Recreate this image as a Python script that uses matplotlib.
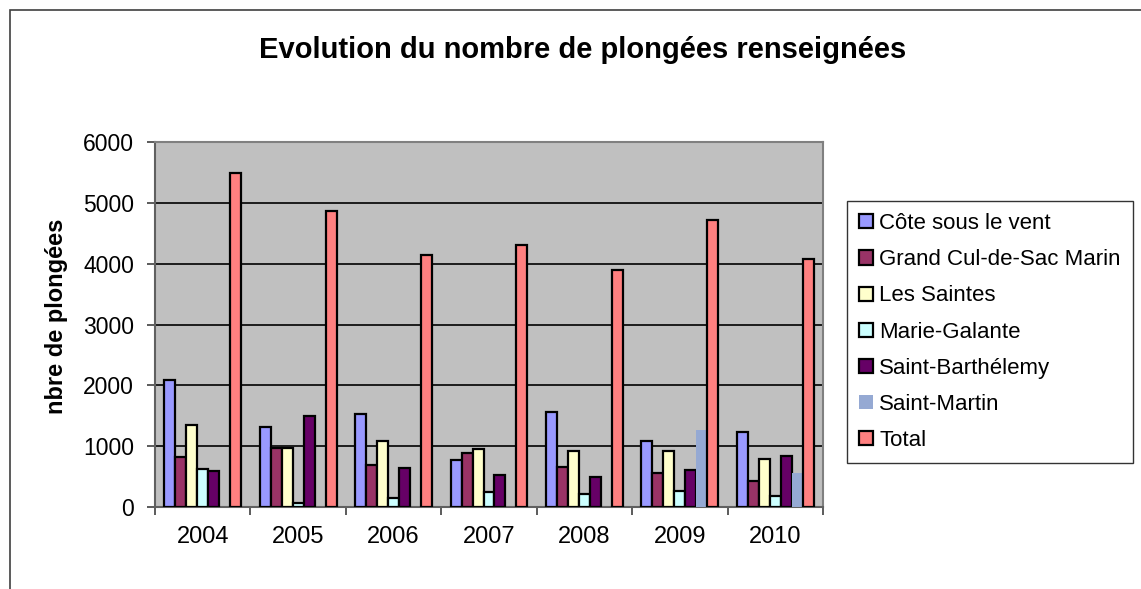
import numpy as np
import matplotlib.pyplot as plt
import matplotlib.patches as mpatches

plt.rcParams['font.family'] = ['Liberation Sans', 'DejaVu Sans']

# --- data ---
years = ['2004', '2005', '2006', '2007', '2008', '2009', '2010']
series = ['Côte sous le vent', 'Grand Cul-de-Sac Marin', 'Les Saintes',
          'Marie-Galante', 'Saint-Barthélemy', 'Saint-Martin', 'Total']
cote = [2080, 1320, 1530, 775, 1560, 1090, 1230]
grand_cul = [820, 965, 695, 880, 665, 565, 435]
saintes = [1340, 965, 1085, 955, 920, 920, 790]
marie_galante = [625, 60, 145, 240, 215, 265, 180]
saint_barth = [585, 1490, 640, 530, 485, 610, 845]
saint_martin = [0, 0, 0, 0, 0, 1270, 565]
total = [5485, 4860, 4135, 4300, 3890, 4725, 4070]
values = [cote, grand_cul, saintes, marie_galante, saint_barth, saint_martin, total]

colors = ['#9999FF', '#993366', '#FFFFCC', '#CCFFFF', '#660066', '#95A9D3', '#FF8080']
edges = ['black'] * 5 + ['none'] + ['black']

fig = plt.figure(figsize=(11.41, 5.89), dpi=100)
ax = fig.add_axes([155 / 1141, 1 - 507 / 589, 668 / 1141, 365 / 589])
ax.set_facecolor('#C0C0C0')

x = np.arange(len(years))
w = 0.115
for i, (vals, col, ec) in enumerate(zip(values, colors, edges)):
    ax.bar(x + (i - 3) * w, vals, width=w, color=col, edgecolor=ec,
           linewidth=1.6, label=series[i], zorder=3)

ax.set_xlim(-0.5, len(years) - 0.5)
ax.set_ylim(0, 6000)
ax.set_yticks(range(0, 6001, 1000))
ax.yaxis.grid(True, color='black', linewidth=1.2, zorder=1)
ax.set_axisbelow(True)

ax.set_xticks(x)
ax.set_xticklabels(years)
ax.set_xticks(np.arange(-0.5, len(years), 1), minor=True)
ax.tick_params(axis='x', which='major', length=0, labelsize=17, pad=14)
ax.tick_params(axis='x', which='minor', length=6, width=1.2, color='#404040')
ax.tick_params(axis='y', length=6, width=1.2, color='#404040', labelsize=16.5, pad=9)

for side in ['top', 'right']:
    ax.spines[side].set_color('#808080')
    ax.spines[side].set_linewidth(1.5)
for side in ['left', 'bottom']:
    ax.spines[side].set_color('#606060')
    ax.spines[side].set_linewidth(1.5)

# chart border
fig.patches.append(mpatches.Rectangle((10 / 1141, -0.1), 1.2, 1.1 - 10 / 589,
                                      transform=fig.transFigure, fill=False,
                                      edgecolor='#404040', linewidth=1.2))

fig.text(583 / 1141, 1 - 50 / 589, 'Evolution du nombre de plongées renseignées',
         ha='center', va='center', fontsize=21, fontweight='bold')
fig.text(57 / 1141, 1 - 316 / 589, 'nbre de plongées', rotation=90,
         ha='center', va='center', fontsize=17, fontweight='bold')

handles, labels = ax.get_legend_handles_labels()
leg = fig.legend(handles, labels, loc='upper left',
                 bbox_to_anchor=(847 / 1141, 1 - 201 / 589),
                 fontsize=16, frameon=True, fancybox=False, shadow=False,
                 handlelength=0.6, handleheight=0.6, handletextpad=0.3,
                 labelspacing=0.68, borderpad=0.55, borderaxespad=0)
leg.get_frame().set_edgecolor('black')
leg.get_frame().set_linewidth(1.0)

fig.savefig('out.png', dpi=100)
